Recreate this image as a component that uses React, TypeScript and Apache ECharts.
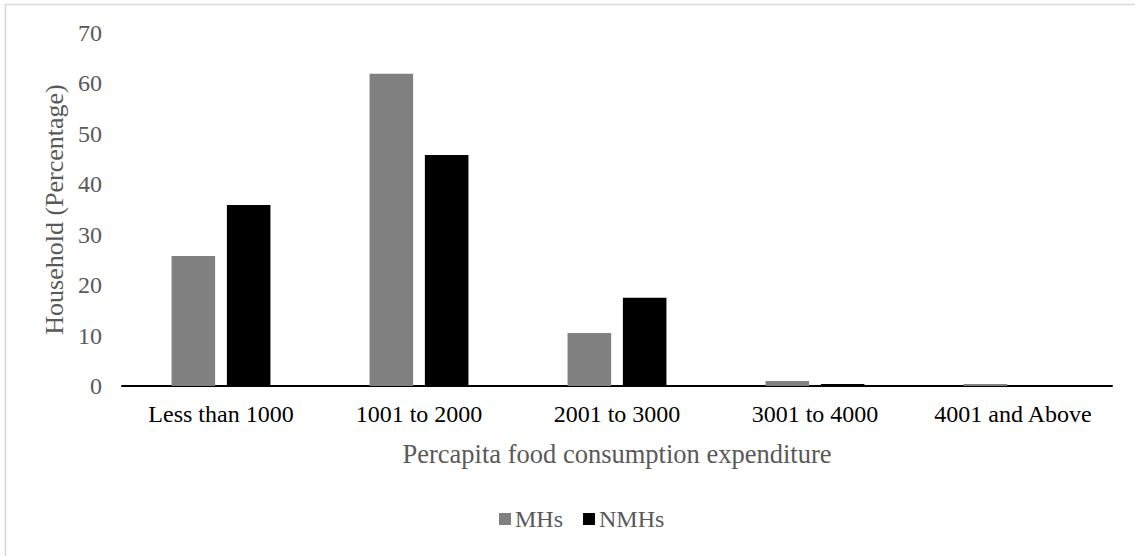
import React, { useEffect, useRef } from "react";
import * as echarts from "echarts";

const categories = ["Less than 1000", "1001 to 2000", "2001 to 3000", "3001 to 4000", "4001 and Above"];
const mhsValues = [25.8, 61.9, 10.5, 1.0, 0.4];
const nmhsValues = [35.9, 45.8, 17.5, 0.4, 0];
const seriesNames = ["MHs", "NMHs"];

const FONT = "'Liberation Serif', 'Times New Roman', serif";

export default function App() {
  const ref = useRef<HTMLDivElement>(null);
  useEffect(() => {
    document.body.style.margin = "0";
    const chart = echarts.init(ref.current!, null, { renderer: "svg" });
    chart.setOption({
      animation: false,
      backgroundColor: "#ffffff",
      textStyle: { fontFamily: FONT },
      graphic: [
        { type: "line", shape: { x1: 5, y1: 4.5, x2: 1135, y2: 4.5 }, style: { stroke: "#d9d9d9", lineWidth: 1.5 } },
        { type: "line", shape: { x1: 5.5, y1: 4, x2: 5.5, y2: 556 }, style: { stroke: "#d9d9d9", lineWidth: 1.5 } },
      ],
      grid: { left: 122, right: 23, top: 33, bottom: 170 },
      legend: {
        data: seriesNames,
        bottom: 20,
        left: 494,
        itemWidth: 12,
        itemHeight: 12,
        itemGap: 20,
        icon: "rect",
        textStyle: { fontFamily: FONT, fontSize: 24, color: "#595959", padding: [0, 0, 0, -1] },
      },
      xAxis: {
        type: "category",
        data: categories,
        name: "Percapita food consumption expenditure",
        nameLocation: "middle",
        nameGap: 54,
        nameTextStyle: { fontFamily: FONT, fontSize: 26.5, color: "#595959" },
        axisLine: { lineStyle: { color: "#000000", width: 2 } },
        axisTick: { show: false },
        axisLabel: { fontFamily: FONT, fontSize: 24, color: "#000000", margin: 16, interval: 0 },
      },
      yAxis: {
        type: "value",
        min: 0,
        max: 70,
        interval: 10,
        name: "Household (Percentage)",
        nameLocation: "middle",
        nameGap: 53,
        nameTextStyle: { fontFamily: FONT, fontSize: 26, color: "#595959" },
        axisLine: { show: false },
        axisTick: { show: false },
        splitLine: { show: false },
        axisLabel: { fontFamily: FONT, fontSize: 24, color: "#595959", margin: 20 },
      },
      series: [
        {
          name: seriesNames[0],
          type: "bar",
          data: mhsValues,
          itemStyle: { color: "#808080" },
          barWidth: "22%",
          barGap: "27%",
        },
        {
          name: seriesNames[1],
          type: "bar",
          data: nmhsValues,
          itemStyle: { color: "#000000" },
          barWidth: "22%",
          barGap: "27%",
        },
      ],
    });
    return () => chart.dispose();
  }, []);
  return <div ref={ref} style={{ position: "absolute", left: 0, top: 0, width: 1135, height: 556 }} />;
}
